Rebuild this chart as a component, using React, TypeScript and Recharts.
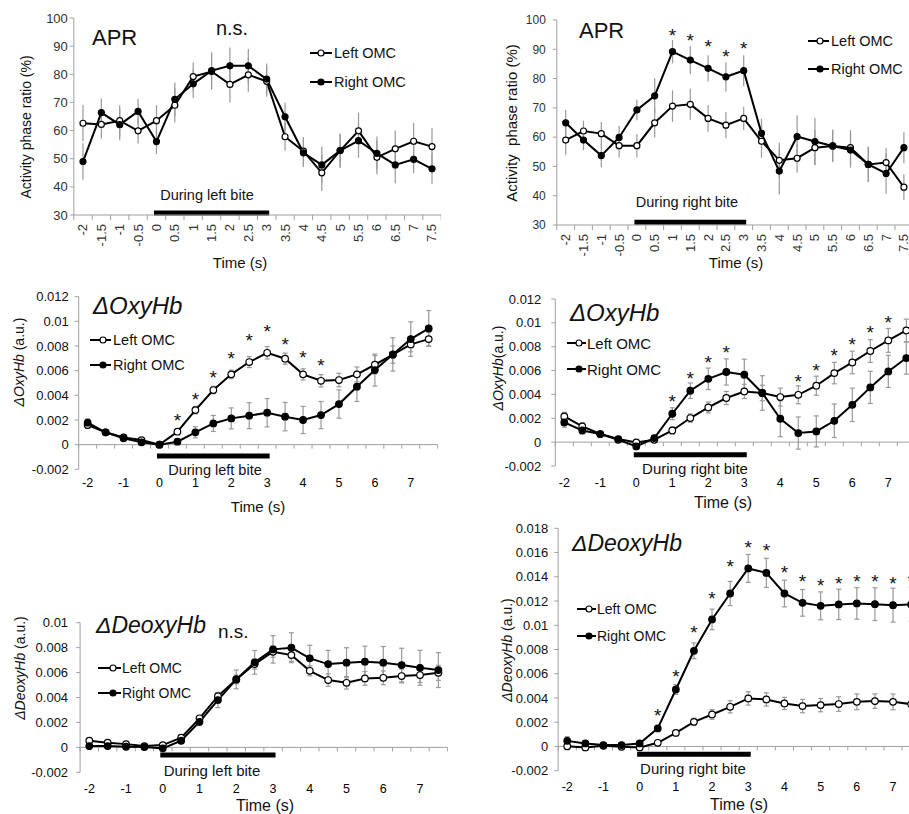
import React from 'react'
import { LineChart, Line, XAxis, YAxis, ErrorBar, ReferenceLine } from 'recharts'

const FONT = '"Liberation Sans", Arial, sans-serif'

const time = [-2, -1.5, -1, -0.5, 0, 0.5, 1, 1.5, 2, 2.5, 3, 3.5, 4, 4.5, 5, 5.5, 6, 6.5, 7, 7.5]
const intTicks = [-2, -1, 0, 1, 2, 3, 4, 5, 6, 7]
const bite = [0, 3]

// APR, left bite
const aprLbLeft = [62.6, 62.2, 63.5, 59.9, 63.5, 69.0, 79.2, 81.0, 76.4, 79.8, 77.5, 57.8, 52.7, 45.0, 52.9, 59.9, 50.5, 53.5, 56.2, 54.3]
const aprLbRight = [49.0, 66.4, 62.1, 66.8, 56.1, 71.1, 76.6, 81.3, 83.0, 83.0, 78.3, 64.9, 52.1, 47.8, 52.9, 56.4, 51.9, 47.8, 49.8, 46.4]
const aprLbLeftErr = [6.5, 5, 5.5, 4.5, 5.5, 6, 5, 6.5, 6.5, 6, 5.5, 5, 5, 6.5, 6, 6.5, 6, 6.5, 6.5, 6.5]
const aprLbRightErr = [6.5, 5, 5.5, 4.5, 4.5, 6, 5, 6.5, 6.5, 6, 5.5, 5, 5, 6.5, 6, 6, 6, 6.5, 5, 5.5]

// APR, right bite
const aprRbLeft = [59.0, 62.1, 61.2, 57.1, 57.1, 64.9, 70.6, 71.2, 66.4, 64.1, 66.4, 58.6, 52.1, 52.8, 56.4, 57.0, 56.4, 50.7, 51.3, 42.9]
const aprRbRight = [64.9, 59.0, 53.7, 59.9, 69.3, 74.1, 89.2, 86.3, 83.5, 80.6, 82.7, 61.3, 48.4, 60.2, 58.5, 57.0, 55.6, 50.7, 47.6, 56.4]
const aprRbLeftErr = [5, 3.5, 4, 4, 4, 5, 5.4, 5.3, 4.6, 4.5, 4, 5.7, 6, 5, 6, 5.5, 6, 6, 5, 4.4]
const aprRbRightErr = [4.4, 3.5, 4, 4, 3.5, 6, 4, 4.8, 4.5, 5, 5.3, 5, 8, 7.3, 8, 5.5, 6, 6, 7, 5.3]
const aprRbStars = [null, null, null, null, null, null, 95.9, 94.2, 92.1, 88.7, 91.5, null, null, null, null, null, null, null, null, null]

// OxyHb, left bite
const oxyLbLeft = [0.00159, 0.001, 0.00059, 0.00037, 0, 0.00105, 0.0028, 0.00443, 0.0057, 0.0067, 0.00745, 0.00697, 0.0057, 0.00518, 0.00524, 0.0057, 0.00648, 0.0073, 0.00813, 0.00856]
const oxyLbRight = [0.00178, 0.001, 0.00051, 0.00019, 0, 0.00024, 0.001, 0.00172, 0.00213, 0.00235, 0.00259, 0.00227, 0.002, 0.0024, 0.00329, 0.0047, 0.00605, 0.00732, 0.00856, 0.00943]
const oxyLbLeftErr = [0.00025, 0.00015, 0.0001, 0.0001, 0.00005, 0.0002, 0.0003, 0.0003, 0.00035, 0.00045, 0.0005, 0.00045, 0.00045, 0.0005, 0.00055, 0.0006, 0.00075, 0.0007, 0.0006, 0.00055]
const oxyLbRightErr = [0.0003, 0.0001, 0.0001, 0.0001, 0.00005, 0.0002, 0.00045, 0.00065, 0.00085, 0.00105, 0.00115, 0.00115, 0.0011, 0.0011, 0.00115, 0.0012, 0.0013, 0.00135, 0.0014, 0.00145]
const oxyLbStars = [null, null, null, null, null, 0.00226, 0.00394, 0.00573, 0.00727, 0.0087, 0.00943, 0.00843, 0.00735, 0.00672, null, null, null, null, null, null]

// OxyHb, right bite
const oxyRbLeft = [0.00215, 0.00132, 0.00068, 0.00026, -0.00002, 0.0002, 0.00098, 0.00202, 0.00291, 0.0037, 0.00425, 0.00412, 0.00378, 0.00397, 0.00473, 0.00579, 0.00668, 0.00764, 0.00853, 0.00936]
const oxyRbRight = [0.00165, 0.00098, 0.00068, 0.0002, -0.00036, 0.00034, 0.00238, 0.00431, 0.00531, 0.00588, 0.00565, 0.00412, 0.00196, 0.00076, 0.0009, 0.00179, 0.00313, 0.00459, 0.00593, 0.00705]
const oxyRbLeftErr = [0.00035, 0.0003, 0.00015, 0.0001, 0.00005, 0.00015, 0.0003, 0.00035, 0.00045, 0.00055, 0.0006, 0.00065, 0.00075, 0.00075, 0.0008, 0.0009, 0.00095, 0.00095, 0.001, 0.00095]
const oxyRbRightErr = [0.0004, 0.0003, 0.00015, 0.0001, 0.00005, 0.0002, 0.0005, 0.00065, 0.0009, 0.0011, 0.0013, 0.00145, 0.0015, 0.00135, 0.0013, 0.0014, 0.0014, 0.00135, 0.00135, 0.00135]
const oxyRbStars = [null, null, null, null, null, null, 0.0037, 0.00559, 0.00699, 0.00783, null, null, null, 0.00537, 0.00629, 0.00752, 0.00852, 0.00948, 0.01032, null]

// DeoxyHb, left bite
const deoLbLeft = [0.00053, 0.00037, 0.00026, 0.0001, 0.00018, 0.00077, 0.00233, 0.00411, 0.00545, 0.00668, 0.00767, 0.0074, 0.00614, 0.0054, 0.00518, 0.00553, 0.00558, 0.00572, 0.0058, 0.00598]
const deoLbRight = [0.0001, 0.0001, 0.00005, 0.00002, -0.00008, 0.00053, 0.00205, 0.00379, 0.00545, 0.00682, 0.00786, 0.00799, 0.00714, 0.00668, 0.00679, 0.00687, 0.00679, 0.0066, 0.00638, 0.0062]
const deoLbLeftErr = [0.0002, 0.00015, 0.0001, 0.0001, 0.0001, 0.00015, 0.0002, 0.0003, 0.00035, 0.0004, 0.00045, 0.0005, 0.0004, 0.0005, 0.0005, 0.00055, 0.00055, 0.00055, 0.0006, 0.0006]
const deoLbRightErr = [0.00025, 0.00015, 0.0001, 0.0001, 0.0001, 0.0002, 0.0003, 0.0006, 0.00075, 0.00095, 0.0011, 0.0012, 0.00105, 0.0011, 0.0012, 0.00125, 0.0013, 0.00135, 0.0014, 0.0014]

// DeoxyHb, right bite
const deoRbLeft = [0.00002, -0.00008, 0.00005, -0.00003, -0.00008, 0.0003, 0.00112, 0.00203, 0.00264, 0.00327, 0.00396, 0.00388, 0.00355, 0.00333, 0.00341, 0.0035, 0.00368, 0.00374, 0.00368, 0.00349]
const deoRbRight = [0.00046, 0.00025, 0.00011, 0.00011, 0.00025, 0.00149, 0.0047, 0.00789, 0.01048, 0.01262, 0.01469, 0.01432, 0.01262, 0.01185, 0.0116, 0.01172, 0.0118, 0.01174, 0.01166, 0.01172]
const deoRbLeftErr = [0.0003, 0.00015, 0.0001, 0.0001, 0.0001, 0.0001, 0.0002, 0.0003, 0.0004, 0.0005, 0.00055, 0.00055, 0.0005, 0.00055, 0.00055, 0.0006, 0.00065, 0.0006, 0.00065, 0.0006]
const deoRbRightErr = [0.00035, 0.0002, 0.0001, 0.0001, 0.00015, 0.0002, 0.0004, 0.00065, 0.00085, 0.001, 0.00115, 0.0012, 0.0011, 0.0011, 0.00115, 0.00125, 0.0013, 0.00135, 0.0014, 0.0014]
const deoRbStars = [null, null, null, null, null, 0.00285, 0.00607, 0.00965, 0.01248, 0.0151, 0.01669, 0.01642, 0.01463, 0.01386, 0.01358, 0.01372, 0.01386, 0.01386, 0.01372, 0.01386]

const aprTicks = [30, 40, 50, 60, 70, 80, 90, 100]
const oxyTicks = [-0.002, 0, 0.002, 0.004, 0.006, 0.008, 0.01, 0.012]
const deoLbTicks = [-0.002, 0, 0.002, 0.004, 0.006, 0.008, 0.01]
const deoRbTicks = [-0.002, 0, 0.002, 0.004, 0.006, 0.008, 0.01, 0.012, 0.014, 0.016, 0.018]

const buildRows = (left: number[], right: number[], leftErr: number[], rightErr: number[], stars?: (number | null)[]) =>
  time.map((t, i) => ({ t, left: left[i], right: right[i], leftErr: leftErr[i], rightErr: rightErr[i], star: stars ? stars[i] : null }))

// minor tick marks sit between the half-second points
const tickBounds = [...time.map(t => t - 0.25), time[time.length - 1] + 0.25]

const GRAY = '#a0a0a0'
const ERR = '#999'

function RotTick(props: any) {
  const { x, y, payload } = props
  return (
    <text x={x} y={y} transform={`rotate(-90 ${x} ${y})`} textAnchor="end" dominantBaseline="central" fontSize={13} fill="#333">
      {payload.value}
    </text>
  )
}

function renderStar(p: any) {
  if (p.payload?.star == null || p.cx == null || p.cy == null) return <g key={`s${p.index}`} />
  return (
    <text key={`s${p.index}`} x={p.cx} y={p.cy + 10} textAnchor="middle" fontSize={19} fill="#111">*</text>
  )
}

interface PanelProps {
  rows: ReturnType<typeof buildRows>
  left: number
  top: number
  width: number
  height: number
  marginTop: number
  yAxisWidth: number
  xAxisHeight: number
  yDomain: [number, number]
  yTicks: number[]
  yTickFont: number
  yTickMargin: number
  apr?: boolean
  xTickMargin?: number
  biteY: number
  cap: number
  r: number
}

function Panel(p: PanelProps) {
  const plotH = p.height - p.marginTop - p.xAxisHeight
  const base = p.apr ? p.yDomain[0] : 0
  const tickLen = ((p.apr ? 5 : 4) * (p.yDomain[1] - p.yDomain[0])) / plotH
  return (
    <div style={{ position: 'absolute', left: p.left, top: p.top }}>
      <LineChart width={p.width} height={p.height} data={p.rows} margin={{ top: p.marginTop, right: 0, bottom: 0, left: 0 }}>
        <XAxis
          type="number"
          dataKey="t"
          domain={[-2.25, 7.75]}
          allowDataOverflow
          ticks={p.apr ? time : intTicks}
          interval={0}
          height={p.xAxisHeight}
          axisLine={p.apr ? { stroke: GRAY } : false}
          tickLine={false}
          tickSize={0}
          tickMargin={p.apr ? 9 : p.xTickMargin}
          tick={p.apr ? <RotTick /> : { fontSize: 12.5, fill: '#000' }}
        />
        <YAxis
          type="number"
          domain={p.yDomain}
          allowDataOverflow
          ticks={p.yTicks}
          interval={0}
          width={p.yAxisWidth}
          axisLine={{ stroke: GRAY }}
          tickLine={{ stroke: GRAY }}
          tickSize={4}
          tickMargin={p.yTickMargin}
          tick={{ fontSize: p.yTickFont, fill: p.apr ? '#333' : '#111' }}
          tickFormatter={(v: number) => String(v)}
        />
        {!p.apr && <ReferenceLine y={0} stroke={GRAY} strokeWidth={1} />}
        {tickBounds.map(b => (
          <ReferenceLine
            key={b}
            segment={[{ x: b, y: base }, { x: b, y: base - tickLen }]}
            stroke={GRAY}
            strokeWidth={1}
            ifOverflow="visible"
          />
        ))}
        <ReferenceLine
          segment={[{ x: bite[0], y: p.biteY }, { x: bite[1], y: p.biteY }]}
          stroke="#000"
          strokeWidth={5}
          strokeLinecap="square"
          ifOverflow="visible"
        />
        <Line dataKey="left" stroke="#000" strokeWidth={2} isAnimationActive={false}
          dot={{ r: p.r, fill: '#fff', stroke: '#000', strokeWidth: 1.2 }} activeDot={false}>
          <ErrorBar dataKey="leftErr" width={p.cap} stroke={ERR} strokeWidth={1.2} direction="y" />
        </Line>
        <Line dataKey="right" stroke="#000" strokeWidth={2} isAnimationActive={false}
          dot={{ r: p.r, fill: '#000', stroke: '#000', strokeWidth: 1.2 }} activeDot={false}>
          <ErrorBar dataKey="rightErr" width={p.cap} stroke={ERR} strokeWidth={1.2} direction="y" />
        </Line>
        <Line dataKey="star" stroke="none" isAnimationActive={false} dot={renderStar} activeDot={false} legendType="none" />
      </LineChart>
    </div>
  )
}

function T({ x, y, s, a = 'start', it, rot, children }: any) {
  return (
    <text
      x={x}
      y={y}
      fontSize={s}
      textAnchor={a}
      dominantBaseline="central"
      fontStyle={it ? 'italic' : 'normal'}
      transform={rot ? `rotate(-90 ${x} ${y})` : undefined}
      fill="#111"
      style={{ whiteSpace: 'pre' }}
    >
      {children}
    </text>
  )
}

function Key({ x0, x1, cx, tx, y, s, filled, label }: any) {
  return (
    <g>
      <line x1={x0} x2={x1} y1={y} y2={y} stroke="#000" strokeWidth={2} />
      <circle cx={cx} cy={y} r={3} fill={filled ? '#000' : '#fff'} stroke="#000" strokeWidth={1.2} />
      <T x={tx} y={y} s={s}>{label}</T>
    </g>
  )
}

export default function App() {
  return (
    <div style={{ position: 'absolute', left: 0, top: 0, width: 909, height: 814, overflow: 'hidden', background: '#fff', fontFamily: FONT }}>
      <Panel rows={buildRows(aprLbLeft, aprLbRight, aprLbLeftErr, aprLbRightErr)} left={0} top={0} width={441.2} height={255}
        marginTop={18} yAxisWidth={73.8} xAxisHeight={40} yDomain={[30, 100]} yTicks={aprTicks} yTickFont={13} yTickMargin={2}
        apr biteY={30.7} cap={0} r={3} />
      <Panel rows={buildRows(aprRbLeft, aprRbRight, aprRbLeftErr, aprRbRightErr, aprRbStars)} left={480} top={0} width={432.8} height={265}
        marginTop={20} yAxisWidth={76.8} xAxisHeight={40} yDomain={[30, 100]} yTicks={aprTicks} yTickFont={12} yTickMargin={7}
        apr biteY={30.9} cap={0} r={3} />
      <Panel rows={buildRows(oxyLbLeft, oxyLbRight, oxyLbLeftErr, oxyLbRightErr, oxyLbStars)} left={0} top={280} width={437.7} height={214.3}
        marginTop={16.7} yAxisWidth={78.7} xAxisHeight={25} yDomain={[-0.002, 0.012]} yTicks={oxyTicks} yTickFont={13} yTickMargin={6}
        xTickMargin={9} biteY={-0.00093} cap={2.5} r={3.3} />
      <Panel rows={buildRows(oxyRbLeft, oxyRbRight, oxyRbLeftErr, oxyRbRightErr, oxyRbStars)} left={480} top={280} width={435.3} height={211}
        marginTop={19} yAxisWidth={75.3} xAxisHeight={25} yDomain={[-0.002, 0.012]} yTicks={oxyTicks} yTickFont={13} yTickMargin={10}
        xTickMargin={12} biteY={-0.00105} cap={2.5} r={3.3} />
      <Panel rows={buildRows(deoLbLeft, deoLbRight, deoLbLeftErr, deoLbRightErr)} left={0} top={600} width={447.6} height={197.3}
        marginTop={22.7} yAxisWidth={80.1} xAxisHeight={25} yDomain={[-0.002, 0.01]} yTicks={deoLbTicks} yTickFont={13} yTickMargin={8}
        xTickMargin={11.5} biteY={-0.00062} cap={2.5} r={3.3} />
      <Panel rows={buildRows(deoRbLeft, deoRbRight, deoRbLeftErr, deoRbRightErr, deoRbStars)} left={480} top={510} width={440.2} height={285.7}
        marginTop={18.3} yAxisWidth={78.2} xAxisHeight={25} yDomain={[-0.002, 0.018]} yTicks={deoRbTicks} yTickFont={13} yTickMargin={6}
        xTickMargin={11.5} biteY={-0.00064} cap={2.5} r={3.3} />

      <svg width={909} height={814} style={{ position: 'absolute', left: 0, top: 0, pointerEvents: 'none', fontFamily: FONT }}>
        {/* APR, left bite */}
        <T x={92} y={37} s={22}>APR</T>
        <T x={232} y={28} s={20} a="middle">n.s.</T>
        <Key x0={310} x1={332} cx={321} tx={334} y={53} s={14.5} label="Left OMC" />
        <Key x0={310} x1={332} cx={321} tx={334} y={82} s={14.5} filled label="Right OMC" />
        <T x={207} y={195} s={14.5} a="middle">During left bite</T>
        <T x={240} y={262} s={15} a="middle">Time (s)</T>
        <T x={26} y={127} s={14} a="middle" rot>Activity phase ratio (%)</T>

        {/* APR, right bite */}
        <T x={579} y={30} s={22}>APR</T>
        <Key x0={808} x1={829} cx={820} tx={831} y={41} s={14.5} label="Left OMC" />
        <Key x0={808} x1={829} cx={820} tx={831} y={69} s={14.5} filled label="Right OMC" />
        <T x={687} y={202} s={14.5} a="middle">During right bite</T>
        <T x={736} y={262} s={15} a="middle">Time (s)</T>
        <T x={511} y={123} s={15} a="middle" rot>Activity  phase ratio (%)</T>

        {/* OxyHb, left bite */}
        <T x={93} y={305} s={24} it>ΔOxyHb</T>
        <Key x0={90} x1={111} cx={103} tx={113} y={340} s={14.5} label="Left OMC" />
        <Key x0={90} x1={111} cx={103} tx={113} y={365} s={14.5} filled label="Right OMC" />
        <T x={215} y={470} s={14.5} a="middle">During left bite</T>
        <T x={258} y={506} s={15} a="middle">Time (s)</T>
        <T x={19} y={362} s={14} a="middle" rot><tspan fontStyle="italic">ΔOxyHb</tspan> (a.u.)</T>

        {/* OxyHb, right bite */}
        <T x={570} y={312} s={24} it>ΔOxyHb</T>
        <Key x0={567} x1={586} cx={579} tx={587} y={343} s={15} label="Left OMC" />
        <Key x0={567} x1={586} cx={579} tx={587} y={369} s={15} filled label="Right OMC" />
        <T x={695} y={468} s={15} a="middle">During right bite</T>
        <T x={723} y={502} s={16} a="middle">Time (s)</T>
        <T x={498} y={368} s={14} a="middle" rot><tspan fontStyle="italic">ΔOxyHb</tspan>(a.u.)</T>

        {/* DeoxyHb, left bite */}
        <T x={96} y={625} s={23} it>ΔDeoxyHb</T>
        <T x={218} y={631} s={19}>n.s.</T>
        <Key x0={98} x1={121} cx={113} tx={122} y={668} s={14} label="Left OMC" />
        <Key x0={98} x1={121} cx={113} tx={122} y={693} s={14} filled label="Right OMC" />
        <T x={212} y={770} s={15} a="middle">During left bite</T>
        <T x={265} y={805} s={16} a="middle">Time (s)</T>
        <T x={20} y={668} s={14} a="middle" rot><tspan fontStyle="italic">ΔDeoxyHb</tspan> (a.u.)</T>

        {/* DeoxyHb, right bite */}
        <T x={572} y={543} s={23} it>ΔDeoxyHb</T>
        <Key x0={577} x1={596} cx={589} tx={597} y={609} s={14} label="Left OMC" />
        <Key x0={577} x1={596} cx={589} tx={597} y={636} s={14} filled label="Right OMC" />
        <T x={693} y={768} s={15} a="middle">During right bite</T>
        <T x={739} y={804} s={16} a="middle">Time (s)</T>
        <T x={507} y={650} s={14} a="middle" rot><tspan fontStyle="italic">ΔDeoxyHb</tspan> (a.u.)</T>
      </svg>
    </div>
  )
}
